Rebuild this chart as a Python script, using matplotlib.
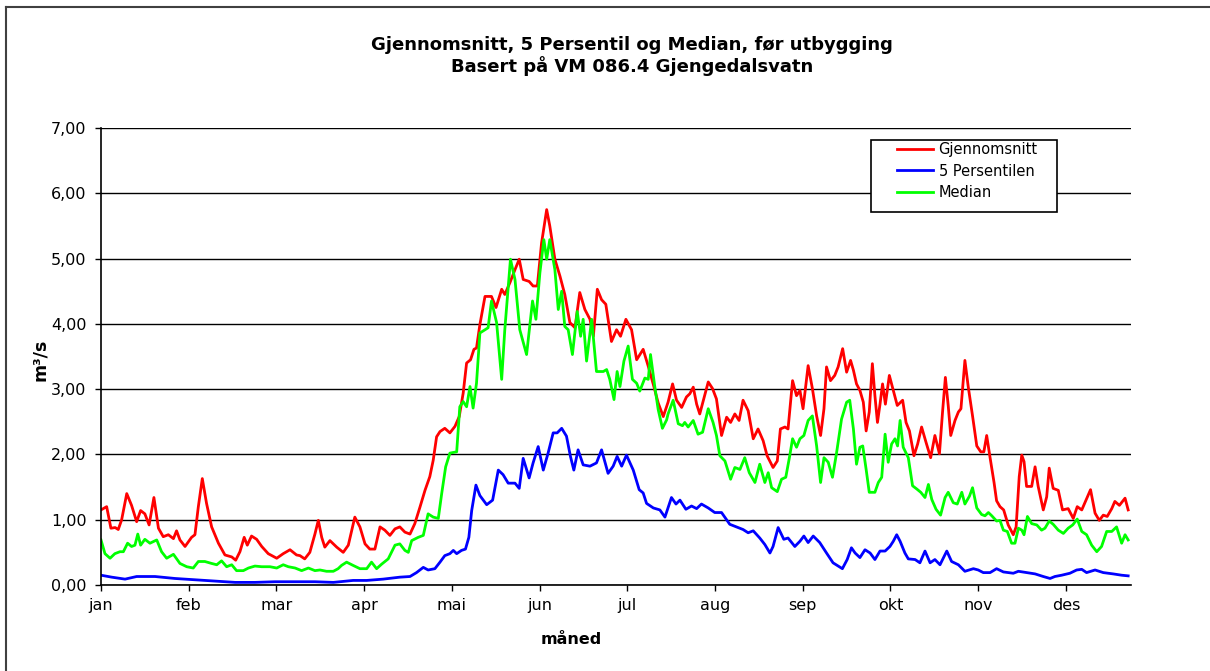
import matplotlib
matplotlib.use('Agg')
import matplotlib.pyplot as plt
from matplotlib.patches import Rectangle
from matplotlib.lines import Line2D

# (dag i året, m3/s)
snitt_dag = [0, 2, 3.5, 5, 6.1, 7.3, 9.1, 10.8, 12.6, 14, 15.5, 17, 18.7, 20.3, 22, 23.8, 25.6, 26.7, 27.9, 29.7,
             32, 33.2, 34.4, 35.8, 37.3, 39.1, 41.5, 43.8, 46.2, 47.6, 49.1, 50.6, 51.7, 53.2, 55, 56.8, 59.1, 62.1,
             64.4, 66.8, 69.1, 70.3, 72, 73.8, 75.6, 76.8, 78, 79.1, 80.9, 83.3, 85.6, 87.4, 89.7, 91.5, 93.3, 95,
             96.8, 98.6, 100.3, 102.1, 103.9, 105.6, 107.4, 109.2, 110.9, 112.7, 114.5, 116.2, 117.4, 118.6, 119.8,
             121.5, 123.3, 125.1, 126.6, 128, 129.2, 130.6, 131.8, 132.7, 133.9, 135.7, 138, 139.6, 141.6, 142.7,
             144.5, 146.3, 147.8, 149.2, 151.3, 152.7, 154.2, 155.7, 157.5, 158.6, 160.4, 162.2, 163.9, 165.7,
             167.5, 169.2, 171, 172.8, 174, 175.4, 176.9, 178.4, 180.4, 182.2, 183.6, 185.5, 187.5, 189.3, 191.6,
             193.4, 195.2, 196.9, 198.7, 200.4, 202, 203.4, 205.2, 206.9, 208.1, 209.3, 210.5, 211.6, 213, 214.6,
             216.1, 217.5, 219.3, 221.1, 222.5, 224, 225.5, 226.9, 228.7, 230.5, 232.2, 234, 235.4, 237.5, 239,
             240.1, 241.7, 242.8, 244.4, 245.8, 247, 248.1, 249.9, 251.4, 252.9, 254.3, 255.5, 256.4, 257.8, 259.3,
             260.5, 262.1, 263.5, 264.9, 265.9, 267, 268.2, 269.4, 270.4, 271.5, 272.6, 273.5, 274.4, 275.3, 276.2,
             277.2, 278.6, 280, 281.4, 283.3, 284.5, 285.7, 287.3, 288.6, 290, 291.6, 293.2, 294.7, 296.3, 297.4,
             298.4, 299.4, 300.3, 301.8, 303, 303.9, 305.3, 306.5, 308, 309.5, 310.9, 312, 313, 314.2, 315.6, 316.5,
             317.7, 319, 320.6, 322.4, 323.4, 324.5, 325.4, 326.2, 327.1, 328.9, 330.1, 331.2, 333, 334.2, 335.1,
             336.5, 338.3, 339.8, 341.8, 343.6, 345, 346.6, 348.1, 349.7, 351.3, 352.8, 354.2, 355.6, 357.2, 358.3,
             359.9, 361.9, 363]
snitt = [1.15, 1.2, 0.87, 0.88, 0.85, 1.0, 1.40, 1.22, 0.97, 1.14, 1.09, 0.92, 1.34, 0.87, 0.74, 0.77, 0.71, 0.83,
         0.69, 0.59, 0.73, 0.77, 1.2, 1.63, 1.25, 0.89, 0.64, 0.46, 0.43, 0.38, 0.51, 0.73, 0.61, 0.75, 0.70, 0.59,
         0.48, 0.41, 0.48, 0.54, 0.46, 0.45, 0.40, 0.50, 0.78, 0.99, 0.73, 0.58, 0.68, 0.58, 0.50, 0.61, 1.04,
         0.89, 0.63, 0.55, 0.55, 0.89, 0.84, 0.76, 0.86, 0.89, 0.81, 0.78, 0.94, 1.19, 1.45, 1.66, 1.91, 2.27,
         2.35, 2.40, 2.33, 2.43, 2.58, 2.94, 3.40, 3.45, 3.61, 3.63, 3.99, 4.42, 4.42, 4.25, 4.53, 4.45, 4.63,
         4.83, 4.99, 4.68, 4.65, 4.58, 4.58, 5.24, 5.75, 5.50, 4.99, 4.73, 4.45, 4.02, 3.94, 4.48, 4.22, 4.07,
         3.81, 4.53, 4.37, 4.30, 3.73, 3.91, 3.81, 4.07, 3.91, 3.45, 3.61, 3.35, 3.07, 2.79, 2.58, 2.80, 3.08,
         2.83, 2.72, 2.88, 2.93, 3.03, 2.77, 2.62, 2.85, 3.11, 3.01, 2.85, 2.29, 2.57, 2.49, 2.62, 2.52, 2.83,
         2.67, 2.24, 2.39, 2.21, 1.98, 1.80, 1.90, 2.39, 2.42, 2.39, 3.13, 2.90, 2.98, 2.70, 3.36, 3.01, 2.59,
         2.29, 2.70, 3.34, 3.13, 3.21, 3.34, 3.62, 3.26, 3.44, 3.29, 3.08, 2.98, 2.80, 2.36, 2.65, 3.39, 2.90,
         2.49, 2.77, 3.08, 2.77, 3.21, 2.98, 2.75, 2.83, 2.49, 2.36, 1.98, 2.16, 2.42, 2.18, 1.95, 2.29, 2.01,
         2.65, 3.18, 2.75, 2.29, 2.52, 2.65, 2.70, 3.44, 3.03, 2.59, 2.13, 2.04, 2.04, 2.29, 1.95, 1.57, 1.29,
         1.20, 1.15, 0.92, 0.77, 0.89, 1.66, 1.99, 1.89, 1.51, 1.51, 1.81, 1.51, 1.15, 1.35, 1.79, 1.48, 1.45,
         1.15, 1.17, 1.02, 1.20, 1.15, 1.30, 1.46, 1.10, 0.99, 1.07, 1.05, 1.17, 1.28, 1.22, 1.33, 1.15]

p5_dag = [0, 3.8, 8.5, 12.6, 19.1, 26.1, 33.2, 40.3, 47.4, 54.4, 61.5, 68.6, 75.6, 82.1, 89.1, 93.9, 99.7, 105.6,
          109.2, 111.5, 113.9, 115.6, 118, 119.8, 121.5, 123.3, 124.5, 125.7, 127.4, 128.8, 130, 131, 132.5,
          133.9, 136.3, 138.4, 140.4, 142.1, 143.9, 146.3, 147.8, 149.2, 151.3, 152.7, 154.5, 156.3, 158, 159.8,
          161.2, 162.8, 164.5, 165.9, 167.1, 168.6, 170.4, 172.8, 175.1, 176.9, 179.2, 181, 182.4, 184, 185.7,
          188.1, 190.2, 191.6, 192.8, 195.2, 197.5, 199.3, 201.6, 203.2, 204.6, 206.7, 208.7, 210.5, 212.2, 214.6,
          216.9, 219.3, 222.2, 225.2, 226.9, 228.7, 230.5, 232.8, 234.6, 236.4, 237.5, 239.3, 241.3, 242.8, 245.2,
          247, 248.4, 249.9, 251.7, 254, 256.4, 258.7, 262, 263.7, 265.2, 266.5, 268.2, 270, 271.8, 273.5, 275.3,
          277.1, 278.8, 280, 281.2, 282.4, 284.1, 285.3, 287.7, 289.4, 291.2, 293, 294.7, 296.5, 298.9, 300.6,
          303, 305.3, 308.3, 310, 311.8, 314.2, 316.5, 318.9, 322.4, 324.2, 327.1, 330.1, 333, 335.4, 337.1,
          339.5, 342.4, 344.8, 346.6, 348.3, 351.3, 354.2, 357.7, 360.7, 363]
p5 = [0.15, 0.12, 0.09, 0.13, 0.13, 0.10, 0.08, 0.06, 0.04, 0.04, 0.05, 0.05, 0.05, 0.04, 0.07, 0.07, 0.09, 0.12,
      0.13, 0.19, 0.27, 0.23, 0.25, 0.35, 0.45, 0.48, 0.53, 0.48, 0.53, 0.55, 0.73, 1.14, 1.53, 1.37, 1.23, 1.30,
      1.76, 1.69, 1.56, 1.56, 1.48, 1.94, 1.64, 1.87, 2.12, 1.76, 2.02, 2.33, 2.33, 2.40, 2.28, 1.97, 1.76, 2.07,
      1.84, 1.82, 1.87, 2.07, 1.71, 1.82, 1.97, 1.82, 1.99, 1.76, 1.46, 1.41, 1.25, 1.18, 1.15, 1.04, 1.34, 1.24,
      1.30, 1.16, 1.21, 1.17, 1.24, 1.18, 1.11, 1.11, 0.93, 0.88, 0.85, 0.80, 0.83, 0.72, 0.62, 0.49, 0.59, 0.88,
      0.70, 0.72, 0.59, 0.67, 0.75, 0.65, 0.75, 0.65, 0.49, 0.34, 0.25, 0.39, 0.57, 0.49, 0.42, 0.54, 0.49, 0.39,
      0.52, 0.52, 0.59, 0.67, 0.77, 0.67, 0.49, 0.40, 0.39, 0.34, 0.52, 0.34, 0.39, 0.31, 0.52, 0.36, 0.31, 0.21,
      0.25, 0.23, 0.19, 0.19, 0.25, 0.20, 0.18, 0.21, 0.19, 0.17, 0.13, 0.10, 0.13, 0.15, 0.18, 0.23, 0.24, 0.19,
      0.23, 0.19, 0.17, 0.15, 0.14]

median_dag = [0, 1.4, 3.2, 4.9, 6.7, 7.9, 9.4, 10.8, 12, 13, 14, 15.5, 17.3, 19.7, 21.4, 23.2, 25.6, 27.9, 30.3,
              32.6, 34.4, 36.7, 39.1, 40.9, 42.6, 44.4, 46.2, 47.9, 50.3, 52.1, 54.4, 56.8, 59.7, 62.1, 64.4, 66.2,
              68.6, 70.9, 73.3, 75.6, 77.4, 79.7, 82.1, 83.8, 85, 86.8, 89.1, 91.5, 93.9, 95.6, 97.4, 99.2, 101.5,
              103.9, 105.6, 107.4, 108.6, 109.8, 112.1, 113.9, 115.6, 117.4, 119.2, 120.4, 121.8, 123.3, 125.7,
              126.8, 128, 129.2, 130.4, 131.5, 132.7, 133.9, 135.7, 136.8, 138, 139.8, 141.6, 142.7, 144.7, 146.3,
              148, 150.4, 152.5, 153.7, 155.1, 156.5, 157.5, 158.6, 160.4, 161.6, 162.8, 163.9, 165.1, 166.6, 168.3,
              169.5, 170.4, 171.6, 173.4, 175.1, 177.5, 178.7, 179.8, 181.3, 182.4, 183.4, 184.8, 186.3, 187.8,
              189.3, 190.4, 192.2, 193.4, 194.2, 195.7, 196.9, 198.4, 199.9, 200.4, 202.2, 204, 205.5, 206.3, 207.5,
              209.3, 211, 212.6, 214.6, 216.3, 217.5, 218.7, 220.5, 222.5, 224, 225.8, 227.5, 229.1, 231.1, 232.8,
              234.6, 235.8, 237, 239, 240.5, 242, 243.4, 244.4, 245.8, 247, 248.4, 249.9, 251.4, 252.9, 254.3, 255.5,
              257, 258.5, 259.9, 261.7, 263.5, 264.6, 265.9, 267, 268.2, 269.2, 270.4, 271.5, 273.5, 274.7, 275.9,
              277.1, 278.2, 279.4, 280.6, 281.5, 282.4, 283.5, 285.3, 286.8, 288.3, 289.7, 291.2, 292.4, 293.6,
              295.1, 296.7, 298.3, 299.4, 301.2, 302.6, 304.2, 305.3, 306.9, 308, 309.5, 311.2, 312.4, 313.6, 314.8,
              316.5, 317.7, 318.9, 320.3, 321.8, 323, 324.2, 325.4, 326.2, 327.4, 328.9, 330.7, 332.4, 333.6, 335.1,
              336.5, 338.3, 340.1, 341.8, 343.4, 345, 346.6, 348.3, 350.1, 351.9, 353.6, 355.4, 357.2, 358.9, 360.7,
              361.9, 363]
median = [0.69, 0.48, 0.41, 0.48, 0.51, 0.51, 0.64, 0.59, 0.61, 0.78, 0.61, 0.70, 0.64, 0.69, 0.51, 0.41, 0.47, 0.33,
          0.28, 0.26, 0.36, 0.36, 0.33, 0.31, 0.37, 0.28, 0.31, 0.22, 0.22, 0.26, 0.29, 0.28, 0.28, 0.26, 0.31, 0.28,
          0.26, 0.22, 0.26, 0.22, 0.23, 0.21, 0.21, 0.25, 0.30, 0.35, 0.30, 0.25, 0.25, 0.35, 0.25, 0.32, 0.40, 0.61,
          0.63, 0.53, 0.50, 0.68, 0.73, 0.76, 1.09, 1.04, 1.02, 1.40, 1.81, 2.02, 2.04, 2.73, 2.81, 2.73, 3.04, 2.71,
          3.09, 3.86, 3.91, 3.94, 4.35, 4.02, 3.15, 3.91, 4.99, 4.68, 3.91, 3.53, 4.35, 4.07, 4.78, 5.29, 4.99, 5.29,
          4.83, 4.22, 4.50, 3.96, 3.91, 3.53, 4.19, 3.81, 4.07, 3.43, 4.07, 3.27, 3.27, 3.30, 3.15, 2.84, 3.27, 3.04,
          3.43, 3.66, 3.15, 3.09, 2.97, 3.17, 3.15, 3.53, 3.04, 2.69, 2.40, 2.53, 2.62, 2.83, 2.47, 2.44, 2.49, 2.42,
          2.52, 2.31, 2.34, 2.70, 2.49, 2.29, 1.98, 1.90, 1.62, 1.80, 1.77, 1.95, 1.72, 1.57, 1.85, 1.57, 1.72, 1.49,
          1.43, 1.62, 1.65, 1.98, 2.24, 2.11, 2.24, 2.29, 2.52, 2.59, 2.13, 1.57, 1.95, 1.88, 1.65, 2.01, 2.54, 2.80,
          2.83, 2.39, 1.85, 2.11, 2.13, 1.77, 1.42, 1.42, 1.57, 1.65, 2.31, 1.88, 2.16, 2.24, 2.13, 2.52, 2.11, 1.95,
          1.52, 1.47, 1.42, 1.34, 1.54, 1.31, 1.16, 1.07, 1.34, 1.42, 1.26, 1.24, 1.42, 1.24, 1.36, 1.49, 1.18, 1.08,
          1.06, 1.11, 1.06, 0.98, 0.99, 0.84, 0.82, 0.64, 0.64, 0.87, 0.84, 0.77, 1.05, 0.94, 0.92, 0.84, 0.87, 0.98,
          0.93, 0.84, 0.79, 0.87, 0.92, 1.01, 0.82, 0.77, 0.61, 0.51, 0.59, 0.82, 0.82, 0.89, 0.64, 0.77, 0.69]

maaneder = ['jan', 'feb', 'mar', 'apr', 'mai', 'jun', 'jul', 'aug', 'sep', 'okt', 'nov', 'des']

W, H = 1210, 671
fig = plt.figure(figsize=(W / 100, H / 100), dpi=100)
ax = fig.add_axes([101 / W, 1 - 585 / H, 1030 / W, 457 / H])

# ramme rundt diagrammet: bare venstre og øvre kant er synlig i bildet
fig.add_artist(Line2D([6 / W, 6 / W], [0, 1 - 7 / H], transform=fig.transFigure, color='#404040', linewidth=1.5))
fig.add_artist(Line2D([6 / W, 1], [1 - 7 / H, 1 - 7 / H], transform=fig.transFigure, color='#404040', linewidth=1.5))

l1, = ax.plot(snitt_dag, snitt, color='#ff0000', linewidth=2.0)
l2, = ax.plot(p5_dag, p5, color='#0000ff', linewidth=2.0)
l3, = ax.plot(median_dag, median, color='#00ff00', linewidth=2.0)

ax.set_xlim(0, 364)
ax.set_ylim(0, 7)
ax.set_xticks(range(0, 365, 31))
ax.set_xticklabels(maaneder)
ax.set_yticks(range(0, 8))
ax.yaxis.set_major_formatter(plt.FuncFormatter(lambda v, pos: '{:.2f}'.format(v).replace('.', ',')))
ax.tick_params(axis='both', direction='out', length=4.5, width=1, labelsize=11.5, colors='black')
ax.tick_params(axis='y', pad=6)
ax.tick_params(axis='x', pad=5)
ax.grid(axis='y', color='black', linewidth=1.0)
ax.set_axisbelow(True)
for s in ['top', 'right']:
    ax.spines[s].set_visible(False)
for s in ['left', 'bottom']:
    ax.spines[s].set_linewidth(1.2)

fig.text(632 / W, 1 - 50.5 / H, 'Gjennomsnitt, 5 Persentil og Median, før utbygging',
         ha='center', va='baseline', fontsize=13, fontweight='bold')
fig.text(632 / W, 1 - 71.5 / H, 'Basert på VM 086.4 Gjengedalsvatn',
         ha='center', va='baseline', fontsize=13, fontweight='bold')
fig.text(571 / W, 1 - 640 / H, 'måned', ha='center', va='center', fontsize=11.5, fontweight='bold')
fig.text(40 / W, 1 - 360 / H, 'm³/s', ha='center', va='center', rotation=90, fontsize=12.5, fontweight='bold')

# forklaringsboks
fig.add_artist(Rectangle((871 / W, 1 - 212 / H), 186 / W, 72 / H, transform=fig.transFigure,
                         facecolor='white', edgecolor='black', linewidth=1.2, zorder=3))
leg = fig.legend([l1, l2, l3], ['Gjennomsnitt', '5 Persentilen', 'Median'],
                 loc='upper left', bbox_to_anchor=(897 / W, 1 - 142 / H), bbox_transform=fig.transFigure,
                 frameon=False, borderpad=0, borderaxespad=0, fontsize=10.5, handlelength=2.5,
                 handletextpad=0.35, labelspacing=0.45)
leg.set_zorder(5)

fig.savefig('out.png', dpi=100)
